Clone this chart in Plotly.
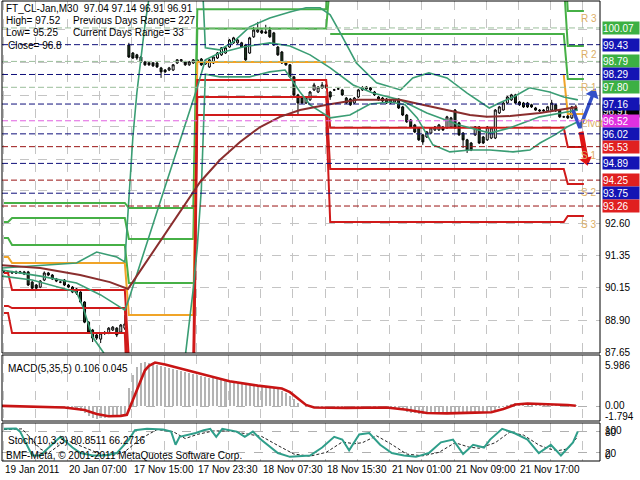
import plotly.graph_objects as go

# ---------------- price bars (M30), index = bar number ----------------
opens = [90.74, 90.74, 90.70, 90.74, 90.70, 90.74, 90.74, 90.35, 90.24, 90.16,
         90.43, 90.70, 90.62, 90.47, 90.35, 90.43, 90.24, 90.16, 90.09, 89.97,
         89.59, 88.82, 88.52, 88.33, 88.17, 88.40, 88.40, 88.52, 88.59, 88.44,
         88.59, 99.42, 99.11, 99.04, 98.96, 98.77, 98.73, 98.73, 98.73, 98.54,
         98.46, 98.46, 98.46, 98.73, 98.81, 98.77, 98.66, 98.73, 98.77, 98.88,
         98.69, 98.58, 98.73, 98.92, 99.04, 99.11, 99.34, 99.50, 99.50, 99.50,
         99.42, 99.11, 99.73, 99.92, 99.96, 99.92, 99.99, 99.88, 99.34, 99.15,
         98.77, 98.66, 98.20, 97.51, 97.39, 97.20, 97.32, 97.70, 97.62, 97.78,
         97.89, 97.62, 97.70, 97.74, 97.70, 97.39, 97.35, 97.20, 97.43, 97.70,
         97.74, 97.78, 97.62, 97.43, 97.39, 97.35, 97.32, 97.24, 97.35, 97.05,
         96.74, 96.55, 96.36, 96.25, 95.98, 95.90, 96.05, 96.17, 96.17, 96.28,
         96.25, 96.28, 96.93, 96.44, 96.05, 95.79, 95.67, 95.98, 96.28, 95.90,
         95.79, 95.86, 95.86, 96.82, 96.93, 97.20, 97.32, 97.51, 97.24, 97.20,
         97.20, 97.13, 97.01, 96.93, 96.93, 96.90, 96.93, 97.13, 96.93, 96.67,
         96.70, 96.63, 97.04]
highs = [90.80, 90.78, 90.78, 90.79, 90.78, 90.78, 90.78, 90.40, 90.28, 90.43,
         90.76, 90.74, 90.66, 90.51, 90.39, 90.47, 90.28, 90.20, 90.12, 90.00,
         89.62, 88.86, 88.56, 88.40, 88.44, 88.48, 88.63, 88.67, 88.63, 88.75,
         89.09, 99.50, 99.15, 99.08, 99.00, 98.81, 98.77, 98.77, 98.77, 98.58,
         98.50, 98.58, 98.69, 98.88, 98.88, 98.81, 98.81, 98.88, 98.88, 98.92,
         98.85, 98.88, 99.00, 99.15, 99.34, 99.34, 99.65, 99.73, 99.65, 99.54,
         99.46, 99.73, 100.11, 100.30, 100.00, 100.19, 100.11, 99.92, 99.38, 99.19,
         98.81, 98.69, 98.24, 97.55, 97.43, 97.43, 97.66, 97.97, 97.85, 98.00,
         97.93, 97.66, 97.74, 97.78, 97.74, 97.43, 97.39, 97.43, 97.74, 97.85,
         97.85, 97.81, 97.66, 97.47, 97.43, 97.39, 97.35, 97.39, 97.39, 97.09,
         96.78, 96.59, 96.40, 96.28, 96.02, 96.13, 96.28, 96.32, 96.40, 96.32,
         96.71, 96.67, 96.97, 96.48, 96.09, 95.83, 95.71, 96.32, 96.32, 95.94,
         96.32, 96.28, 96.97, 97.09, 97.24, 97.47, 97.55, 97.55, 97.28, 97.24,
         97.24, 97.17, 97.05, 96.97, 96.97, 97.09, 97.32, 97.17, 96.97, 96.71,
         96.74, 97.09, 97.14]
lows = [90.70, 90.66, 90.66, 90.66, 90.67, 90.62, 90.20, 90.08, 90.05, 90.12,
        90.39, 90.58, 90.43, 90.35, 90.31, 90.20, 90.12, 89.93, 89.86, 89.55,
        88.78, 88.40, 88.06, 88.14, 88.02, 88.33, 88.36, 88.48, 88.25, 88.40,
        88.52, 98.92, 98.88, 98.85, 98.73, 98.62, 98.62, 98.58, 98.54, 98.16,
        98.35, 98.42, 98.42, 98.69, 98.77, 98.62, 98.62, 98.69, 98.73, 98.62,
        98.66, 98.54, 98.69, 98.88, 99.00, 99.08, 99.31, 99.46, 99.46, 99.31,
        98.81, 99.08, 99.69, 99.88, 99.84, 99.84, 99.69, 99.38, 99.00, 98.69,
        98.62, 98.16, 97.47, 96.74, 97.16, 97.16, 97.28, 97.66, 97.58, 97.74,
        97.74, 97.32, 97.66, 97.70, 97.47, 97.16, 97.09, 97.16, 97.39, 97.66,
        97.70, 97.66, 97.47, 97.28, 97.24, 97.16, 97.16, 97.20, 96.97, 96.70,
        96.44, 96.24, 96.05, 95.75, 95.60, 95.86, 96.01, 96.13, 96.13, 96.13,
        96.21, 96.24, 96.21, 95.94, 95.48, 95.29, 95.36, 95.94, 95.63, 95.63,
        95.75, 95.82, 95.82, 96.78, 96.90, 97.16, 97.28, 97.16, 97.09, 97.01,
        97.01, 97.01, 96.90, 96.86, 96.86, 96.86, 96.90, 96.86, 96.63, 96.63,
        96.59, 96.59, 96.91]
closes = [90.74, 90.70, 90.74, 90.70, 90.74, 90.66, 90.24, 90.12, 90.12, 90.39,
          90.70, 90.62, 90.47, 90.39, 90.35, 90.24, 90.16, 89.97, 89.93, 89.59,
          88.82, 88.44, 88.21, 88.21, 88.40, 88.40, 88.59, 88.63, 88.33, 88.71,
          88.75, 98.96, 98.92, 98.92, 98.77, 98.66, 98.66, 98.62, 98.58, 98.39,
          98.39, 98.54, 98.66, 98.85, 98.85, 98.66, 98.77, 98.85, 98.85, 98.66,
          98.81, 98.85, 98.96, 99.11, 99.31, 99.31, 99.61, 99.69, 99.61, 99.34,
          98.85, 99.69, 99.99, 99.99, 99.88, 99.88, 99.73, 99.42, 99.04, 98.73,
          98.66, 98.20, 97.51, 97.20, 97.20, 97.39, 97.62, 97.89, 97.81, 97.89,
          97.78, 97.43, 97.70, 97.74, 97.51, 97.20, 97.13, 97.39, 97.70, 97.78,
          97.81, 97.70, 97.51, 97.32, 97.28, 97.20, 97.20, 97.35, 97.01, 96.74,
          96.48, 96.28, 96.09, 95.79, 95.71, 96.09, 96.25, 96.28, 96.36, 96.17,
          96.67, 96.63, 96.25, 95.98, 95.79, 95.40, 95.40, 96.28, 95.67, 95.67,
          96.28, 96.25, 96.93, 97.05, 97.20, 97.43, 97.51, 97.20, 97.13, 97.05,
          97.05, 97.05, 96.93, 96.90, 96.90, 97.05, 97.20, 96.90, 96.67, 96.67,
          96.63, 97.05, 96.91]
bar_index = list(range(len(closes)))

# ---------------- Bollinger bands (20) and moving average ----------------
bb_up_bars = [-0.5, 9, 18, 23, 28, 30, 31, 32, 33, 34, 35, 36, 37, 49, 50, 53.5, 57, 61, 66, 71,
              75, 78.5, 81, 83.5, 87.5, 92.5, 98.5, 101.5, 105.5, 110, 115, 120.5, 123, 126.5,
              130.5, 135.5, 139, 142.5]
bb_up_vals = [90.89, 91.00, 91.08, 91.50, 91.31, 91.12, 93.70, 95.90, 97.60, 99.00, 100.20, 101.20,
              102.00, 102.70, 99.31, 99.23, 99.54, 100.11, 100.45, 100.68, 100.84, 100.84, 100.57,
              99.88, 98.73, 97.97, 97.70, 98.16, 98.35, 98.16, 97.58, 97.01, 97.20, 97.43, 97.78,
              97.62, 97.43, 97.32]
bb_mid_bars = [-0.5, 9, 18, 24, 30, 31, 40, 48, 50, 53.5, 59.3, 66, 71, 76, 81, 86.7, 91.6, 98.3,
               105, 113, 120.7, 125.7, 133, 142.5]
bb_mid_vals = [90.81, 90.58, 90.32, 89.86, 89.28, 89.70, 94.00, 97.80, 98.85, 99.11, 99.34, 99.50,
               99.38, 99.04, 98.54, 97.89, 97.58, 97.32, 96.82, 96.36, 96.05, 96.25, 96.67, 96.93]
bb_low_bars = [-0.5, 7, 18, 19.6, 22, 24.6, 27, 35, 45, 46, 47, 48, 49, 50, 53.6, 61, 66, 69.8, 73.5,
               76, 81, 85.9, 90.9, 95.9, 99.6, 102.6, 106.5, 110.7, 115.7, 120.7, 126.4, 130.6, 133.1,
               136.8, 139.8, 142.5]
bb_low_vals = [90.58, 90.43, 89.97, 89.40, 88.25, 87.68, 87.0, 85.5, 87.5, 88.7, 90.1, 91.7, 93.9,
               98.3, 98.20, 98.20, 98.39, 98.46, 97.62, 97.13, 96.63, 96.74, 97.16, 97.24, 97.13,
               96.63, 95.60, 95.33, 95.40, 95.40, 95.33, 95.40, 95.67, 95.98, 96.28, 96.48]
ma_bars = [-0.5, 9, 18.9, 26.3, 30.8, 48.7, 53.6, 58.6, 63.6, 68.5, 73.5, 80.2, 87.7, 98.3, 106.5,
           115.7, 119.9, 125.7, 133.1, 142.3]
ma_vals = [91.00, 90.89, 90.62, 90.35, 90.09, 94.18, 95.02, 95.71, 96.28, 96.67, 96.93, 97.13,
           97.32, 97.32, 97.05, 96.74, 96.67, 96.70, 96.82, 97.05]

# ---------------- daily pivot levels ----------------
day_start = [0, 2, 31, 48, 81, 140]
day_end = [1, 30, 47, 80, 139, 144]
piv_R3 = [93.38, 93.38, 93.18, 100.78, 103.40, 100.72]
piv_R2 = [92.65, 92.80, 92.00, 100.05, 101.87, 99.38]
piv_R1 = [92.04, 91.77, 90.32, None, 99.84, 98.12]
piv_P = [91.31, 91.08, 89.09, 98.77, 98.27, 96.78]
piv_P_shown = [True, True, True, True, False, True]
piv_S1 = [90.70, 90.05, 87.41, 98.08, 96.25, 95.52]
piv_S2 = [89.44, 89.36, 86.20, 97.43, 94.68, 94.10]
piv_S3 = [89.17, 88.40, 84.50, 96.74, 92.65, 92.88]
piv_names = ["R 3", "R 2", "R 1", "Pivot", "S 1", "S 2", "S 3"]
piv_label_prices = [100.42, 99.04, 97.81, 96.40, 95.21, 93.76, 92.57]

# ---------------- horizontal price levels (objects) ----------------
hline_values = [100.07, 99.43, 98.79, 98.29, 97.80, 97.16, 96.52, 96.02, 95.53, 94.89, 94.25, 93.75, 93.26]
hline_kind = ["g", "b", "g", "b", "g", "b", "m", "b", "r", "b", "r", "b", "r"]
bid_price = 96.91
price_ticks = [87.65, 88.90, 90.15, 91.35, 92.60]
grid_prices = [87.65, 88.90, 90.15, 91.35, 92.60, 93.85, 95.05, 96.30, 97.50, 98.75, 100.00]

# ---------------- signal arrows ----------------
arrow_up_bars = [141.3, 143.0, 146.3]
arrow_up_prices = [96.93, 96.25, 97.55]
arrow_dn_bars = [143.3, 144.6]
arrow_dn_prices = [96.10, 95.00]

# ---------------- MACD(5,35,5) ----------------
macd_main = [0.05, 0.04, 0.02, 0.0, -0.02, -0.04, -0.1, -0.18, -0.22, -0.2, -0.12, -0.08, -0.08,
             -0.12, -0.18, -0.24, -0.3, -0.38, -0.48, -0.62, -0.95, -1.3, -1.6, -1.79, -1.7, -1.6,
             -1.45, -1.35, -1.3, -1.2, -1.1,
             2.5, 4.3, 5.4, 5.9, 5.99, 5.92, 5.8, 5.65, 5.5, 5.35, 5.2, 5.05, 4.92, 4.8, 4.68, 4.55, 4.45,
             4.3, 4.15, 4.0, 3.9, 3.8, 3.7, 3.6, 3.5, 3.4, 3.3, 3.2, 3.1, 3.0, 2.95, 2.9, 2.85, 2.8,
             2.7, 2.6, 2.5,
             2.4, 2.1, 1.8, 1.35, 0.9, 0.45, 0.05, -0.1, -0.15, -0.2, -0.2, -0.2, -0.25,
             -0.25, -0.25, -0.2, -0.2, -0.25, -0.3, -0.25, -0.2, -0.15, -0.1, -0.1, -0.15, -0.2,
             -0.25, -0.25, -0.3,
             -0.35, -0.45, -0.6, -0.75, -0.9, -1.0, -1.1, -1.15, -1.1, -1.05, -1.0, -0.95, -0.9,
             -0.85, -0.85, -0.85, -0.9, -0.95, -1.0, -1.0, -0.95, -0.9, -0.85, -0.8, -0.7, -0.5,
             -0.3, -0.1, 0.1, 0.25, 0.35, 0.35, 0.3, 0.3, 0.3, 0.28, 0.25, 0.25, 0.25, 0.22, 0.2,
             0.2, 0.15, 0.12, 0.1, 0.106]
macd_sig_bars = [-0.5, 10, 15, 20, 23, 26, 29, 30.5, 31, 32, 33, 34, 35, 36, 37.5, 40, 45, 50, 56,
                 63, 67, 69, 71, 73, 75, 77, 85, 95, 100, 105, 110, 117, 121, 124, 127, 130, 135,
                 140, 142]
macd_sig_vals = [0.02, -0.08, -0.2, -0.55, -1.1, -1.4, -1.35, -1.2, -0.5, 0.9, 2.3, 3.7, 4.9, 5.5,
                 5.95, 5.7, 5.0, 4.2, 3.4, 2.8, 2.6, 2.4, 1.9, 1.0, 0.15, -0.2, -0.25, -0.2, -0.5,
                 -0.95, -1.0, -0.9, -0.85, -0.4, 0.2, 0.35, 0.3, 0.15, 0.045]

# ---------------- Stochastic(10,3,3) ----------------
stoch_bars = [0, 3, 4, 6, 7, 9, 12, 14, 17, 19, 22, 25, 28, 31, 32.5, 35.5, 39.5, 41.5, 42.6, 43.6,
              47.6, 49.6, 51.2, 52.7, 54.2, 57.8, 59.8, 61.8, 63.8, 68, 71, 76, 79, 82, 84, 85.7,
              88.2, 90.7, 93.4, 96.3, 99.3, 102.3, 105.5, 108.5, 111.5, 114, 116.5, 119.2, 120.7,
              123.7, 126.7, 130, 132.8, 135.8, 138.3, 141.3, 142.5]
stoch_main = [88, 89, 80, 34, 11, 11, 42, 65, 34, 18, 11, 11, 18, 57, 84, 88, 86, 80, 42, 65,
              76, 84, 88, 65, 88, 80, 65, 80, 57, 18, 7, 11, 34, 65, 57, 26, 72, 76, 42, 18,
              11, 7, 18, 49, 57, 15, 42, 34, 57, 88, 76, 57, 18, 42, 11, 49, 80.85]
stoch_sig_bars = [0, 4.5, 9, 11, 15.5, 20, 24, 27, 30, 34, 38, 42, 45, 48, 52, 56, 60, 64, 68, 72,
                  76, 80, 84, 87, 89, 92.5, 96, 100, 104, 108, 112, 115.5, 118, 122, 125.5, 129,
                  133, 135.5, 137.5, 140, 142.5]
stoch_sig = [86, 88, 30, 18, 55, 35, 15, 11, 22, 60, 86, 80, 60, 72, 82, 82, 74, 66, 40, 15,
             9, 20, 50, 45, 48, 68, 45, 15, 10, 20, 48, 35, 32, 48, 78, 70, 40, 30, 25, 30, 66.27]

# ---------------- time axis labels ----------------
time_label_bars = [-0.25, 15.75, 31.75, 47.75, 63.75, 79.75, 95.75, 111.75, 127.75]
time_labels = ["19 Jan 2011", "20 Jan 07:00", "17 Nov 15:00", "17 Nov 23:30", "18 Nov 07:30",
               "18 Nov 15:30", "21 Nov 01:00", "21 Nov 09:00", "21 Nov 17:00"]

# ======================= figure =======================
W, H = 640, 480
PX_L, PX_R = 2, 600
MAIN_T, MAIN_B = 1, 353
MACD_T, MACD_B = 355, 421
STO_T, STO_B = 423, 461
XR = [-0.5, 148]
FONT = "Liberation Sans, Arial, sans-serif"

def py(px):
    return 1 - px / H

def px_x(px):
    return px / W

GREEN = "#46b046"
ORANGE = "#f0a428"
RED = "#d01a1a"
TEAL = "#3a9d74"
BROWN = "#8a2e2e"

fig = go.Figure()

# pivot step lines (drawn first)
def per_bar(levels, shown=None):
    xs, ys = [], []
    for k, (s, e, v) in enumerate(zip(day_start, day_end, levels)):
        for b in range(s, e + 1):
            xs.append(b)
            if shown is not None and not shown[k] and b != e:
                ys.append(None)
            else:
                ys.append(v)
    return xs, ys

for lv, col in [(piv_R3, GREEN), (piv_R2, GREEN), (piv_R1, GREEN)]:
    xs, ys = per_bar(lv)
    fig.add_trace(go.Scatter(x=xs, y=ys, mode="lines", line=dict(color=col, width=2),
                             connectgaps=False, xaxis="x", yaxis="y", hoverinfo="skip"))
xs, ys = per_bar(piv_P, piv_P_shown)
fig.add_trace(go.Scatter(x=xs, y=ys, mode="lines", line=dict(color=ORANGE, width=2),
                         connectgaps=False, xaxis="x", yaxis="y", hoverinfo="skip"))
for lv in [piv_S1, piv_S2, piv_S3]:
    xs, ys = per_bar(lv)
    fig.add_trace(go.Scatter(x=xs, y=ys, mode="lines", line=dict(color=RED, width=2),
                             xaxis="x", yaxis="y", hoverinfo="skip"))

# bands and MA
for bx, bv in [(bb_up_bars, bb_up_vals), (bb_mid_bars, bb_mid_vals), (bb_low_bars, bb_low_vals)]:
    fig.add_trace(go.Scatter(x=bx, y=bv, mode="lines", line=dict(color=TEAL, width=1.6),
                             xaxis="x", yaxis="y", hoverinfo="skip"))
fig.add_trace(go.Scatter(x=ma_bars, y=ma_vals, mode="lines", line=dict(color=BROWN, width=2),
                         xaxis="x", yaxis="y", hoverinfo="skip"))

# candles
fig.add_trace(go.Candlestick(
    x=bar_index, open=opens, high=highs, low=lows, close=closes,
    increasing=dict(line=dict(color="black", width=1), fillcolor="white"),
    decreasing=dict(line=dict(color="black", width=1), fillcolor="#1f3d22"),
    whiskerwidth=0, xaxis="x", yaxis="y", hoverinfo="skip"))

# arrows
fig.add_trace(go.Scatter(x=arrow_up_bars, y=arrow_up_prices, mode="lines",
                         line=dict(color="#3450c8", width=3.5), xaxis="x", yaxis="y", hoverinfo="skip"))
fig.add_trace(go.Scatter(x=[arrow_up_bars[-1]], y=[arrow_up_prices[-1]], mode="markers",
                         marker=dict(symbol="triangle-up", size=12, color="#3450c8", angle=22),
                         xaxis="x", yaxis="y", hoverinfo="skip"))
fig.add_trace(go.Scatter(x=arrow_dn_bars, y=arrow_dn_prices, mode="lines",
                         line=dict(color="#e01414", width=5), xaxis="x", yaxis="y", hoverinfo="skip"))
fig.add_trace(go.Scatter(x=[arrow_dn_bars[-1]], y=[arrow_dn_prices[-1]], mode="markers",
                         marker=dict(symbol="triangle-down", size=11, color="#e01414", angle=-14),
                         xaxis="x", yaxis="y", hoverinfo="skip"))

# MACD
fig.add_trace(go.Bar(x=bar_index, y=macd_main, marker=dict(color="#b4b4b4", line=dict(width=0)),
                     width=0.5, xaxis="x2", yaxis="y2", hoverinfo="skip"))
fig.add_trace(go.Scatter(x=macd_sig_bars, y=macd_sig_vals, mode="lines",
                         line=dict(color="#c81414", width=2.6), xaxis="x2", yaxis="y2", hoverinfo="skip"))

# Stochastic
fig.add_trace(go.Scatter(x=stoch_sig_bars, y=stoch_sig, mode="lines",
                         line=dict(color="#222222", width=1, dash="3px,2px"),
                         xaxis="x3", yaxis="y3", hoverinfo="skip"))
fig.add_trace(go.Scatter(x=stoch_bars, y=stoch_main, mode="lines",
                         line=dict(color="#2f9e8a", width=2), xaxis="x3", yaxis="y3", hoverinfo="skip"))

xdom = [px_x(PX_L), px_x(PX_R)]
xcommon = dict(range=XR, domain=xdom, showticklabels=False, showgrid=True, gridcolor="#c4c4c4",
               griddash="dash", gridwidth=1, tick0=-0.25, dtick=8, zeroline=False, showline=False,
               ticks="", fixedrange=True)
layout = dict(
    width=W, height=H, margin=dict(l=0, r=0, t=0, b=0),
    paper_bgcolor="white", plot_bgcolor="white", showlegend=False,
    xaxis=dict(**xcommon, anchor="y", rangeslider=dict(visible=False)),
    xaxis2=dict(**xcommon, anchor="y2", matches="x"),
    xaxis3=dict(**xcommon, anchor="y3", matches="x"),
    yaxis=dict(domain=[py(MAIN_B), py(MAIN_T)], range=[87.64, 101.10], tickvals=grid_prices,
               showticklabels=False, showgrid=True, gridcolor="#c4c4c4", griddash="dash",
               zeroline=False, anchor="x"),
    yaxis2=dict(domain=[py(MACD_B), py(MACD_T)], range=[-2.05, 6.99], tickvals=[0],
                showticklabels=False, showgrid=True, gridcolor="#b0b0b0", griddash="dash",
                zeroline=False, anchor="x2"),
    yaxis3=dict(domain=[py(STO_B), py(STO_T)], range=[-5, 105], tickvals=[20, 80],
                showticklabels=False, showgrid=True, gridcolor="#b0b0b0", griddash="dash",
                zeroline=False, anchor="x3"),
    bargap=0,
)
fig.update_layout(**layout)

shapes = []
dash_col = {"g": "#9cbf9c", "b": "#10107a", "m": "#e060e0", "r": "#9a1414"}
box_col = {"g": "#3cb043", "b": "#1414b4", "m": "#e030e0", "r": "#e02020"}
for v, k in zip(hline_values, hline_kind):
    shapes.append(dict(type="line", xref="paper", yref="y", x0=px_x(PX_L), x1=px_x(PX_R), y0=v, y1=v,
                       line=dict(color=dash_col[k], width=1, dash="6px,3px"), layer="above"))
for t, b in [(MAIN_T, MAIN_B), (MACD_T, MACD_B), (STO_T, STO_B)]:
    shapes.append(dict(type="rect", xref="paper", yref="paper", x0=px_x(PX_L), x1=px_x(PX_R),
                       y0=py(b), y1=py(t), line=dict(color="black", width=1), layer="above"))
fig.update_layout(shapes=shapes)

ann = []
def txt(x, y, s, size=10, color="black", xref="paper", yref="paper", **kw):
    ann.append(dict(x=x, y=y, xref=xref, yref=yref, text=s, showarrow=False, xanchor="left",
                    yanchor="middle", font=dict(family=FONT, size=size, color=color), **kw))

# header texts
txt(px_x(4), py(8), "FT_CL-Jan,M30  97.04 97.14 96.91 96.91")
txt(px_x(4), py(21), "High= 97.52")
txt(px_x(71), py(21), "Previous Days Range= 227")
txt(px_x(4), py(33), "Low= 95.25")
txt(px_x(71), py(33), "Current Days Range= 33")
txt(px_x(6), py(45), "Close= 96.8")
txt(px_x(6), py(368), "MACD(5,35,5) 0.106 0.045")
txt(px_x(6), py(440), "Stoch(10,3,3) 80.8511 66.2716")
txt(px_x(4), py(455), "BMF-Meta, © 2001-2011 MetaQuotes Software Corp.")

# price axis labels
for v in price_ticks:
    txt(px_x(603), v, f"{v:.2f}", yref="y")
# bid label and level boxes
ann.append(dict(x=px_x(602), y=bid_price, xref="paper", yref="y", text=f"{bid_price:.2f}",
                showarrow=False, xanchor="left", yanchor="middle", bgcolor="black", width=36,
                height=12, borderpad=0, align="left", font=dict(family=FONT, size=10, color="white")))
for v, k in zip(hline_values, hline_kind):
    ann.append(dict(x=px_x(602), y=v, xref="paper", yref="y", text=f"{v:.2f}", showarrow=False,
                    xanchor="left", yanchor="middle", bgcolor=box_col[k], width=36, height=12,
                    borderpad=0, align="left", font=dict(family=FONT, size=10, color="white")))

# pivot labels
for name, v in zip(piv_names, piv_label_prices):
    ann.append(dict(x=142.9, y=v, xref="x", yref="y", text=name, showarrow=False, xanchor="left",
                    yanchor="middle", font=dict(family=FONT, size=10, color="#dcae66")))

# MACD / Stoch scale labels (the stochastic ones overlap in the original too)
txt(px_x(603), py(365), "5.986")
txt(px_x(603), py(405), "0.00")
txt(px_x(603), py(416), "-1.794")
txt(px_x(603), py(430), "100")
txt(px_x(603), py(432), "80")
txt(px_x(603), py(453), "20")
txt(px_x(603), py(455), "0")

# time labels
for b, s in zip(time_label_bars, time_labels):
    ann.append(dict(x=b, y=py(469), xref="x3", yref="paper", text=s, showarrow=False,
                    xanchor="left", yanchor="middle", font=dict(family=FONT, size=10, color="black")))

fig.update_layout(annotations=ann)

fig.write_html("out.html", config={"displayModeBar": False, "staticPlot": True},
               post_script="document.body.style.margin='0';")
